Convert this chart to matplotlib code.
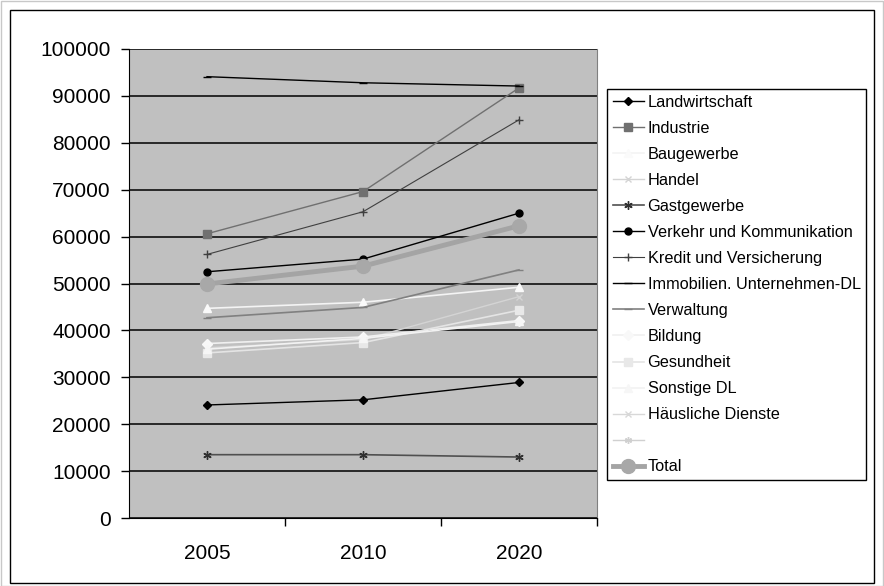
import numpy as np
import matplotlib
matplotlib.use("Agg")
import matplotlib.pyplot as plt
from matplotlib.patches import Rectangle

plt.rcParams['font.family'] = ['Liberation Sans', 'DejaVu Sans']

years = ["2005", "2010", "2020"]

landwirtschaft = [24100, 25200, 28900]
industrie = [60600, 69600, 91700]
baugewerbe = [44700, 46000, 49200]
handel = [36300, 38000, 47200]
gastgewerbe = [13500, 13500, 13000]
verkehr = [52500, 55200, 65000]
kredit = [56200, 65300, 84900]
immobilien = [94100, 92800, 92100]
verwaltung = [42700, 44900, 52900]
bildung = [37200, 38600, 42100]
gesundheit = [35200, 37400, 44300]
sonstige = [36000, 38300, 41900]
haeusliche = [np.nan, np.nan, np.nan]
ohne_name = [np.nan, np.nan, np.nan]
total = [49900, 53700, 62300]

ASTERISK = (6, 2, 0)

series = [
    ("Landwirtschaft", landwirtschaft, "#000000", "D", 4.5, 1.0, "#000000"),
    ("Industrie", industrie, "#707070", "s", 5.5, 1.0, "#707070"),
    ("Baugewerbe", baugewerbe, "#F4F4F4", "^", 6, 1.2, "#FAFAFA"),
    ("Handel", handel, "#D4D4D4", "x", 5, 1.0, "#D4D4D4"),
    ("Gastgewerbe", gastgewerbe, "#505050", ASTERISK, 6, 1.2, "#303030"),
    ("Verkehr und Kommunikation", verkehr, "#000000", "o", 5, 1.0, "#000000"),
    ("Kredit und Versicherung", kredit, "#404040", "+", 6, 0.8, "#404040"),
    ("Immobilien. Unternehmen-DL", immobilien, "#000000", "_", 6, 1.0, "#000000"),
    ("Verwaltung", verwaltung, "#808080", "_", 6, 1.2, "#808080"),
    ("Bildung", bildung, "#F0F0F0", "D", 5, 1.2, "#F8F8F8"),
    ("Gesundheit", gesundheit, "#E4E4E4", "s", 6, 1.2, "#E8E8E8"),
    ("Sonstige DL", sonstige, "#F2F2F2", "^", 6, 1.2, "#F6F6F6"),
    ("Häusliche Dienste", haeusliche, "#D8D8D8", "x", 5, 1.0, "#D8D8D8"),
    (" ", ohne_name, "#D0D0D0", ASTERISK, 5, 1.0, "#D0D0D0"),
    ("Total", total, "#A4A4A4", "o", 10, 3.5, "#A8A8A8"),
]

W, H = 884, 586
fig = plt.figure(figsize=(W / 100, H / 100), dpi=100)

# outer frames
fig.patches.append(Rectangle((0.5 / W, 0.5 / H), 1 - 1.5 / W, 1 - 1.5 / H,
                             transform=fig.transFigure, fill=False,
                             edgecolor="#C8C8C8", linewidth=1.0))
fig.patches.append(Rectangle((10 / W, 3 / H), 864 / W, 573 / H,
                             transform=fig.transFigure, fill=False,
                             edgecolor="#000000", linewidth=1.0))

x0, x1, y0, y1 = 129, 597, 49, 518
ax = fig.add_axes([x0 / W, 1 - y1 / H, (x1 - x0) / W, (y1 - y0) / H])
ax.set_facecolor("#C0C0C0")

xs = np.arange(len(years))
handles = []
for name, vals, col, mk, ms, lw, mcol in series:
    ln, = ax.plot(xs, vals, color=col, marker=mk, markersize=ms, linewidth=lw,
                  markerfacecolor=mcol, markeredgecolor=mcol, zorder=3)
    handles.append((ln, name))

ax.set_xlim(-0.5, len(years) - 0.5)
ax.set_ylim(0, 100000)
ax.set_yticks(np.arange(0, 100001, 10000))
ax.yaxis.grid(True, color="#000000", linewidth=1.1, zorder=1)
ax.set_axisbelow(True)

ax.set_xticks(xs)
ax.set_xticklabels(years)
ax.set_xticks(np.arange(0.5, len(years), 1.0), minor=True)
ax.tick_params(axis="x", which="major", length=0, pad=19, labelsize=15)
ax.tick_params(axis="x", which="minor", length=6, width=1, direction="out")
ax.tick_params(axis="y", length=6, width=1, direction="out", pad=7, labelsize=15)

ax.spines["top"].set_visible(False)
ax.spines["right"].set_color("#808080")
ax.spines["left"].set_color("#000000")
ax.spines["bottom"].set_color("#000000")

leg = ax.legend([h for h, _ in handles], [n for _, n in handles],
                loc="upper left",
                bbox_to_anchor=(607 / W, 1 - 89 / H), bbox_transform=fig.transFigure,
                frameon=True, fancybox=False, edgecolor="#000000",
                fontsize=11.7, handlelength=1.9, handletextpad=0.25,
                labelspacing=0.68, borderpad=0.35, borderaxespad=0,
                framealpha=1)
leg.get_frame().set_linewidth(1.0)

fig.savefig("out.png", dpi=100, facecolor="white")
